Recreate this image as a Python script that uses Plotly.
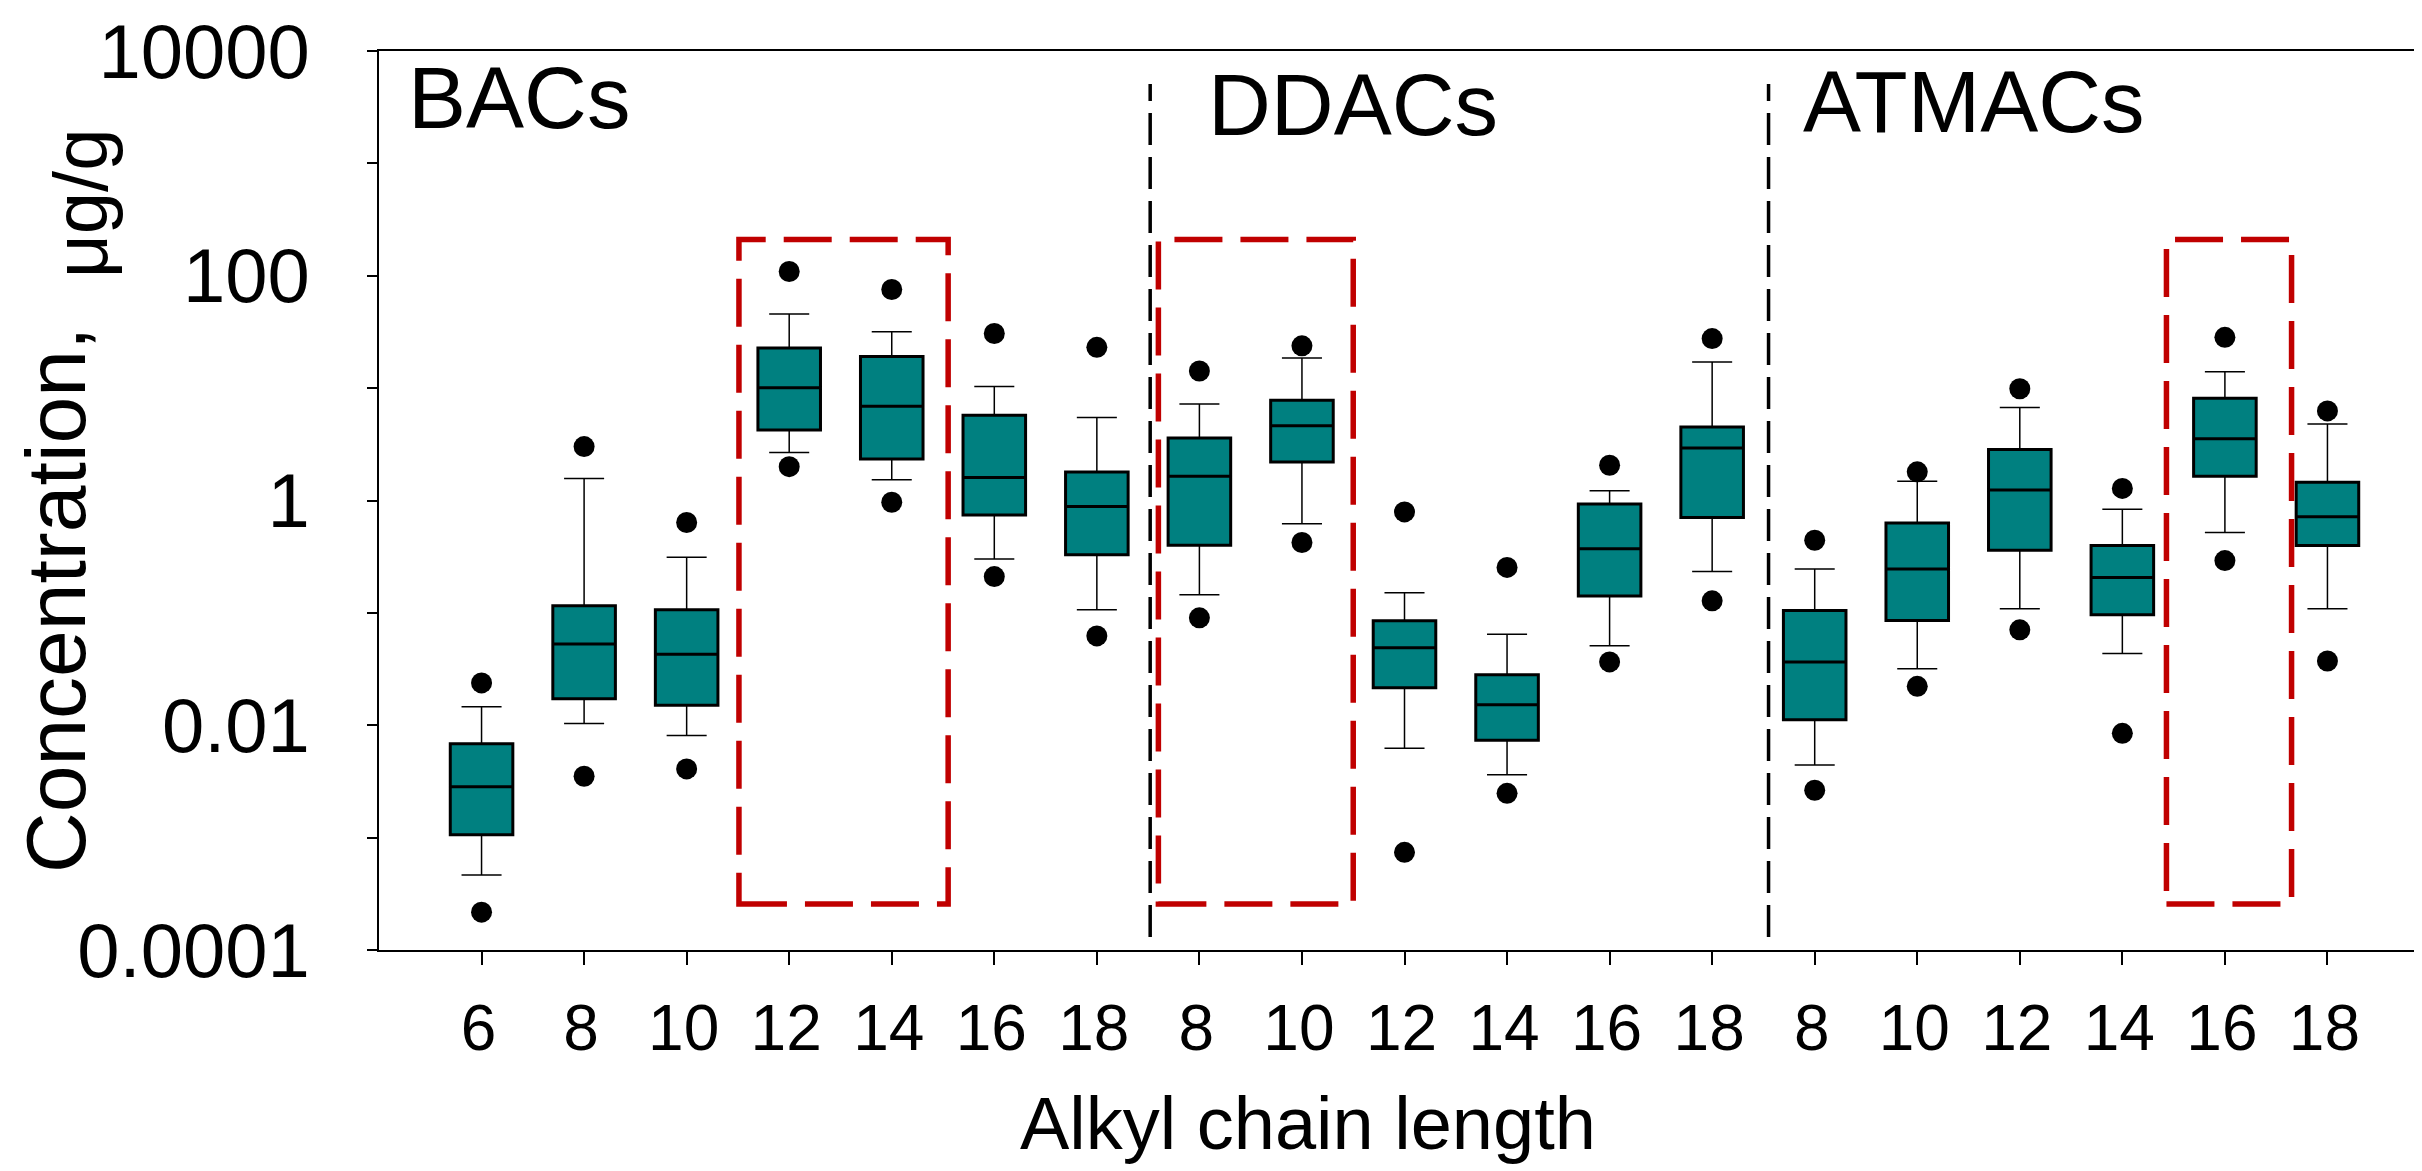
import plotly.graph_objects as go

# ---------------- data ----------------
groups = ["BACs", "DDACs", "ATMACs"]
chain_labels = ["6", "8", "10", "12", "14", "16", "18",
                "8", "10", "12", "14", "16", "18",
                "8", "10", "12", "14", "16", "18"]
positions = list(range(1, 20))

q1 = [0.00106, 0.0172, 0.0151, 4.24, 2.34, 0.743, 0.329,
      0.400, 2.20, 0.0216, 0.00736, 0.141, 0.705,
      0.0112, 0.0856, 0.361, 0.096, 1.64, 0.397]
median = [0.00283, 0.0529, 0.0429, 10.1, 6.89, 1.60, 0.885,
          1.64, 4.62, 0.0489, 0.0152, 0.373, 2.93,
          0.0366, 0.246, 1.24, 0.206, 3.54, 0.715]
q3 = [0.00686, 0.116, 0.1066, 22.7, 19.1, 5.75, 1.79,
      3.60, 7.80, 0.0849, 0.0281, 0.933, 4.52,
      0.1048, 0.631, 2.84, 0.397, 8.13, 1.45]
whisker_low = [0.000465, 0.01035, 0.0081, 2.67, 1.53, 0.302, 0.1066,
               0.145, 0.621, 0.00623, 0.00362, 0.0511, 0.233,
               0.00442, 0.0318, 0.1086, 0.0436, 0.518, 0.1086]
whisker_high = [0.0146, 1.57, 0.313, 45.6, 31.8, 10.35, 5.49,
                7.22, 18.5, 0.151, 0.0646, 1.22, 17.1,
                0.246, 1.48, 6.72, 0.837, 13.96, 4.80]
outlier_low = [0.000217, 0.00352, 0.00409, 2.0, 0.964, 0.2105, 0.0624,
               0.0903, 0.423, 0.00074, 0.00248, 0.0366, 0.128,
               0.00264, 0.0222, 0.0706, 0.00847, 0.292, 0.0373]
outlier_high = [0.0238, 3.02, 0.637, 109, 75.4, 30.6, 23.07,
                14.2, 23.8, 0.792, 0.254, 2.06, 27.6,
                0.443, 1.80, 9.88, 1.28, 28.3, 6.27]

y_tick_vals = [1e-4, 1e-3, 1e-2, 1e-1, 1, 10, 100, 1000, 10000]
y_tick_text = ["0.0001", "", "0.01", "", "1", "", "100", "", "10000"]

# group separators (category position units) and highlight boxes
separators = [7.52, 13.55]
separator_y = (10 ** -3.884, 10 ** 3.706)
highlight_x = [(3.51, 5.55), (7.60, 9.50), (17.43, 18.65)]
highlight_y = (10 ** -3.59, 10 ** 2.322)

# ---------------- figure ----------------
W, H = 2422, 1171
L, R, T, B = 371, 0, 43, 229
PW, PH = W - L - R, H - T - B

def px_x(p):
    return (p - L) / PW

def px_y(p):
    return 1 - (p - T) / PH

TEAL = "#008080"
RED = "#C00000"
FONT = "Liberation Sans, Arial, sans-serif"

fig = go.Figure()

# whiskers (thin)
fig.add_trace(go.Box(
    x=positions, q1=q1, median=median, q3=q3,
    lowerfence=whisker_low, upperfence=whisker_high,
    width=0.61, whiskerwidth=0.64, boxpoints=False,
    fillcolor=TEAL, line=dict(color="black", width=1.5),
    showlegend=False, hoverinfo="skip"))
# boxes (thick outline)
fig.add_trace(go.Box(
    x=positions, q1=q1, median=median, q3=q3,
    lowerfence=q1, upperfence=q3,
    width=0.61, whiskerwidth=0, boxpoints=False,
    fillcolor=TEAL, line=dict(color="black", width=3),
    showlegend=False, hoverinfo="skip"))
# outliers
fig.add_trace(go.Scatter(
    x=positions + positions, y=outlier_high + outlier_low,
    mode="markers", marker=dict(color="black", size=21, line=dict(width=0)),
    showlegend=False, hoverinfo="skip", cliponaxis=False))

shapes = []
for sx in separators:
    shapes.append(dict(type="line", xref="x", yref="y", x0=sx, x1=sx,
                       y0=separator_y[0], y1=separator_y[1],
                       line=dict(color="black", width=3.5, dash="32px,12px")))
for (a, b) in highlight_x:
    shapes.append(dict(type="rect", xref="x", yref="y", x0=a, x1=b,
                       y0=highlight_y[0], y1=highlight_y[1],
                       line=dict(color=RED, width=5.5, dash="48px,18px")))

annotations = []
# group labels
for txt, x0, yc in [("BACs", 398, 90), ("DDACs", 1198, 96), ("ATMACs", 1793, 93)]:
    annotations.append(dict(text=txt, xref="paper", yref="paper",
                            x=px_x(x0), y=px_y(yc), xanchor="left", yanchor="middle",
                            showarrow=False, font=dict(family=FONT, size=87, color="black")))
# x-axis title
annotations.append(dict(text="Alkyl chain length", xref="paper", yref="paper",
                        x=px_x(1300), y=px_y(1115), xanchor="center", yanchor="middle",
                        showarrow=False, font=dict(family=FONT, size=74, color="black")))
# y-axis title (two parts)
annotations.append(dict(text="Concentration,", xref="paper", yref="paper",
                        x=px_x(48), y=px_y(592), xanchor="center", yanchor="middle",
                        textangle=-90, showarrow=False,
                        font=dict(family=FONT, size=84, color="black")))
annotations.append(dict(text="μg/g", xref="paper", yref="paper",
                        x=px_x(72), y=px_y(196), xanchor="center", yanchor="middle",
                        textangle=-90, showarrow=False,
                        font=dict(family=FONT, size=76, color="black")))

fig.update_layout(
    template="none",
    width=W, height=H, autosize=False,
    margin=dict(l=L, r=R, t=T, b=B, pad=0),
    paper_bgcolor="white", plot_bgcolor="white",
    boxmode="overlay",
    showlegend=False,
    shapes=shapes,
    annotations=annotations,
    xaxis=dict(range=[0, 20], tickvals=positions, ticktext=chain_labels,
               showgrid=False, zeroline=False,
               showline=True, linecolor="black", linewidth=2, mirror=True,
               ticks="outside", ticklen=13, tickwidth=2, tickcolor="black",
               ticklabelstandoff=8, ticklabelshift=-3,
               ticklabeloverflow="allow",
               tickfont=dict(family=FONT, size=64, color="black"),
               automargin=False),
    yaxis=dict(type="log", range=[-4, 4], tickvals=y_tick_vals, ticktext=y_tick_text,
               showgrid=False, zeroline=False,
               showline=True, linecolor="black", linewidth=2, mirror=False,
               ticks="outside", ticklen=10, tickwidth=2, tickcolor="black",
               ticklabelstandoff=42, ticklabeloverflow="allow",
               tickfont=dict(family=FONT, size=76, color="black"),
               automargin=False),
)

fig.write_html("out.html")
